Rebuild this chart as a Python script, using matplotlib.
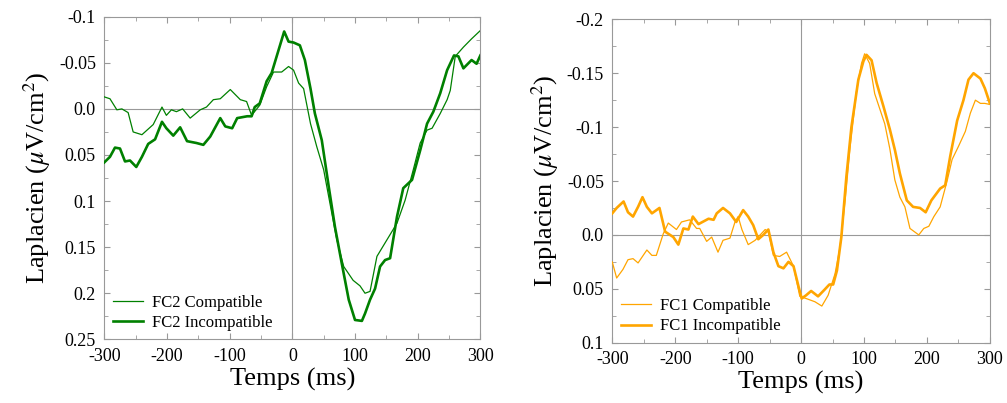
import numpy as np
import matplotlib
matplotlib.use('Agg')
import matplotlib.pyplot as plt
from matplotlib.ticker import MultipleLocator, FixedLocator

plt.rcParams['font.family'] = ['Liberation Serif', 'DejaVu Serif']
plt.rcParams['mathtext.fontset'] = 'stix'
plt.rcParams['axes.unicode_minus'] = False

# --- FC2 (left panel) ---
fc2_comp_t = [-300, -291, -280, -272, -262, -254, -240, -222, -208, -201, -193, -185, -175,
              -163, -147, -137, -126, -115, -99, -83, -73, -65, -52, -41, -30, -17, -6, 2,
              10, 18, 29, 39, 50, 61, 71, 82, 97, 108, 116, 124, 135, 151, 167, 180, 193,
              204, 215, 223, 236, 247, 252, 260, 273, 286, 300]
fc2_comp_v = [-0.013, -0.011, 0.001, 0.0, 0.004, 0.025, 0.028, 0.017, -0.002, 0.007, 0.001,
              0.003, 0.0, 0.010, 0.001, -0.002, -0.010, -0.011, -0.021, -0.010, -0.008,
              0.007, -0.004, -0.024, -0.040, -0.040, -0.046, -0.042, -0.028, -0.022, 0.016,
              0.041, 0.066, 0.106, 0.142, 0.171, 0.186, 0.192, 0.200, 0.198, 0.160, 0.142,
              0.124, 0.099, 0.066, 0.037, 0.023, 0.021, 0.005, -0.010, -0.020, -0.057,
              -0.067, -0.076, -0.085]

fc2_inc_t = [-300, -291, -283, -275, -267, -259, -249, -240, -230, -219, -208, -201, -190,
             -179, -168, -153, -142, -131, -115, -107, -96, -88, -72, -65, -60, -52, -41,
             -33, -25, -13, -6, 2, 12, 20, 29, 36, 47, 58, 68, 79, 90, 100, 111, 116, 124,
             132, 140, 148, 156, 167, 177, 191, 204, 215, 225, 236, 247, 258, 265, 273,
             286, 294, 300]
fc2_inc_v = [0.058, 0.052, 0.042, 0.043, 0.057, 0.056, 0.063, 0.052, 0.038, 0.033, 0.014,
             0.021, 0.029, 0.020, 0.035, 0.037, 0.039, 0.030, 0.010, 0.019, 0.021, 0.010,
             0.008, 0.008, -0.002, -0.006, -0.030, -0.039, -0.057, -0.084, -0.073, -0.072,
             -0.069, -0.053, -0.022, 0.005, 0.034, 0.084, 0.128, 0.168, 0.207, 0.229, 0.230,
             0.222, 0.207, 0.195, 0.171, 0.164, 0.162, 0.117, 0.086, 0.077, 0.045, 0.016,
             0.003, -0.017, -0.042, -0.058, -0.057, -0.044, -0.053, -0.049, -0.058]

# --- FC1 (right panel) ---
fc1_comp_t = [-300, -293, -283, -275, -267, -259, -245, -237, -230, -219, -211, -198, -190,
              -177, -166, -161, -150, -142, -132, -124, -113, -105, -100, -94, -84, -73,
              -65, -57, -52, -44, -34, -23, -12, -2, 8, 22, 33, 43, 54, 62, 70, 78, 88, 96,
              101, 109, 117, 125, 133, 141, 149, 157, 165, 173, 187, 195, 203, 211, 221,
              232, 240, 250, 261, 269, 277, 285, 292, 300]
fc1_comp_v = [0.025, 0.040, 0.032, 0.023, 0.022, 0.026, 0.014, 0.019, 0.019, -0.001, -0.011,
              -0.005, -0.012, -0.014, -0.006, -0.006, 0.006, 0.002, 0.016, 0.005, 0.003,
              -0.012, -0.017, -0.005, 0.009, 0.005, 0.0, -0.005, -0.003, 0.019, 0.020,
              0.016, 0.029, 0.057, 0.059, 0.062, 0.066, 0.056, 0.036, 0.011, -0.032, -0.082,
              -0.133, -0.159, -0.168, -0.159, -0.131, -0.117, -0.103, -0.080, -0.051,
              -0.035, -0.026, -0.006, 0.0, -0.006, -0.008, -0.017, -0.026, -0.050, -0.070,
              -0.082, -0.096, -0.113, -0.125, -0.122, -0.122, -0.121]

fc1_inc_t = [-300, -293, -282, -275, -267, -259, -252, -245, -237, -225, -216, -203, -195,
             -187, -179, -172, -163, -147, -139, -134, -124, -113, -103, -92, -84, -76, -68,
             -60, -52, -44, -36, -28, -20, -12, -4, 1, 8, 16, 27, 37, 45, 51, 57, 64, 72, 80,
             91, 99, 104, 112, 120, 131, 141, 149, 157, 168, 178, 189, 198, 207, 221, 229,
             237, 248, 258, 266, 274, 285, 292, 300]
fc1_inc_v = [-0.020, -0.025, -0.031, -0.021, -0.017, -0.026, -0.035, -0.026, -0.020, -0.025,
             -0.003, 0.002, 0.009, -0.006, -0.005, -0.017, -0.010, -0.015, -0.014, -0.020,
             -0.025, -0.020, -0.012, -0.023, -0.017, -0.009, 0.004, 0.0, -0.005, 0.016,
             0.029, 0.031, 0.025, 0.029, 0.048, 0.059, 0.056, 0.052, 0.057, 0.051, 0.046,
             0.046, 0.033, 0.002, -0.054, -0.100, -0.144, -0.161, -0.167, -0.162, -0.141,
             -0.119, -0.098, -0.079, -0.057, -0.032, -0.026, -0.025, -0.021, -0.032,
             -0.043, -0.046, -0.073, -0.106, -0.125, -0.144, -0.150, -0.145, -0.136, -0.122]

x_ticks = [-300, -200, -100, 0, 100, 200, 300]
left_yticks = [-0.1, -0.05, 0.0, 0.05, 0.1, 0.15, 0.2, 0.25]
left_ylabels = ['-0.1', '-0.05', '0.0', '0.05', '0.1', '0.15', '0.2', '0.25']
right_yticks = [-0.2, -0.15, -0.1, -0.05, 0.0, 0.05, 0.1]
right_ylabels = ['-0.2', '-0.15', '-0.1', '-0.05', '0.0', '0.05', '0.1']

fig = plt.figure(figsize=(10.07, 4.03), dpi=100)
ax1 = fig.add_axes([0.1036, 0.158, 0.3734, 0.8005])
ax2 = fig.add_axes([0.608, 0.1496, 0.375, 0.8025])


def style(ax, yticks, ylabels, ylim, yminor, color, tc, vc, ti, vi, names):
    ax.axhline(0, color='#999999', lw=0.8, zorder=1)
    ax.axvline(0, color='#999999', lw=0.8, zorder=1)
    ax.plot(tc, vc, color=color, lw=0.9, label=names[0], zorder=3,
            solid_joinstyle='round')
    ax.plot(ti, vi, color=color, lw=1.9, label=names[1], zorder=4,
            solid_joinstyle='round')
    ax.set_xlim(-300, 300)
    ax.set_ylim(*ylim)
    ax.xaxis.set_major_locator(FixedLocator(x_ticks))
    ax.set_xticklabels([str(t) for t in x_ticks])
    ax.xaxis.set_minor_locator(MultipleLocator(50))
    ax.set_yticks(yticks)
    ax.set_yticklabels(ylabels)
    ax.yaxis.set_minor_locator(MultipleLocator(yminor))
    ax.tick_params(which='both', direction='in', top=True, right=True,
                   color='#999999', labelsize=13, pad=6)
    ax.tick_params(which='major', length=4)
    ax.tick_params(which='minor', length=3)
    for sp in ax.spines.values():
        sp.set_color('#999999')
        sp.set_linewidth(0.8)
    ax.set_xlabel('Temps (ms)', fontsize=19, labelpad=2)
    ax.set_ylabel(r'Laplacien ($\mu$V/cm$^2$)', fontsize=19, labelpad=4)
    ax.legend(loc='lower left', frameon=False, fontsize=12, handlelength=1.8,
              handletextpad=0.55, borderaxespad=0.1, labelspacing=0.25)


style(ax1, left_yticks, left_ylabels, (0.25, -0.1), 0.025, 'green',
      fc2_comp_t, fc2_comp_v, fc2_inc_t, fc2_inc_v, ['FC2 Compatible', 'FC2 Incompatible'])
style(ax2, right_yticks, right_ylabels, (0.1, -0.2), 0.025, 'orange',
      fc1_comp_t, fc1_comp_v, fc1_inc_t, fc1_inc_v, ['FC1 Compatible', 'FC1 Incompatible'])

fig.savefig('out.png', dpi=100)
